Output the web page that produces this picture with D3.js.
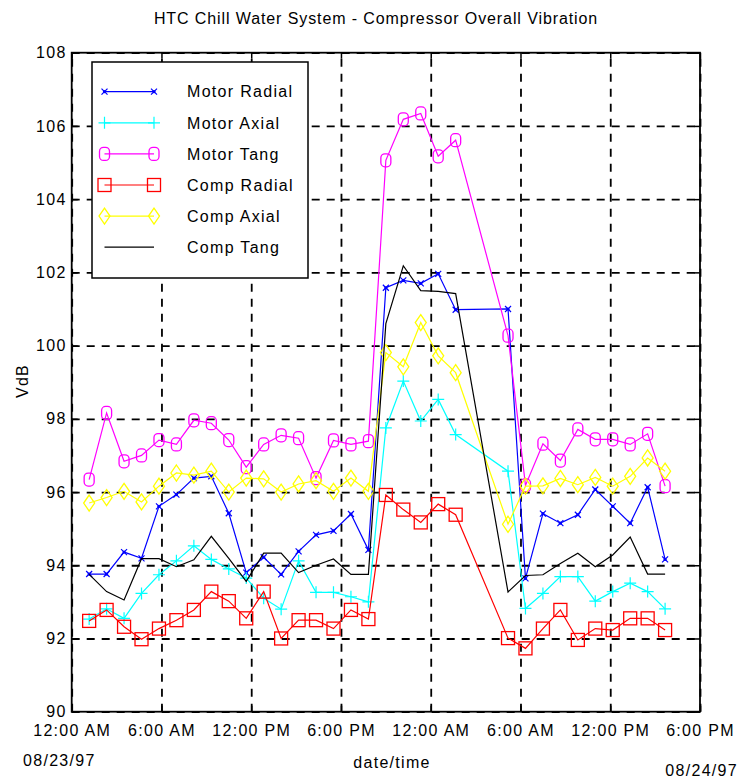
<!DOCTYPE html>
<html lang="en">

<head>
    <meta charset="UTF-8">
    <meta name="viewport" content="width=device-width, initial-scale=1.0">
    <script src="https://d3js.org/d3.v7.min.js"></script>
    <title>HTC Chill Water System - Compressor Overall Vibration</title>
    <style>
        body { margin: 0; background: #fff; }
        text { font-family: "Liberation Sans", Arial, sans-serif; font-size: 16px; letter-spacing: 1.3px; fill: #000; }
    </style>
</head>

<body>
    <div id="chart"></div>

    <script>
        // sample times (one reading about every 70 min, two readings missing around 3 AM)
        var times = [
            "08/23/97 01:10", "08/23/97 02:20", "08/23/97 03:30", "08/23/97 04:40", "08/23/97 05:50",
            "08/23/97 07:00", "08/23/97 08:10", "08/23/97 09:20", "08/23/97 10:30", "08/23/97 11:40",
            "08/23/97 12:50", "08/23/97 14:00", "08/23/97 15:10", "08/23/97 16:20", "08/23/97 17:30",
            "08/23/97 18:40", "08/23/97 19:50", "08/23/97 21:00", "08/23/97 22:10", "08/23/97 23:20",
            "08/24/97 00:30", "08/24/97 01:40",
            "08/24/97 05:10", "08/24/97 06:20", "08/24/97 07:30", "08/24/97 08:40", "08/24/97 09:50",
            "08/24/97 11:00", "08/24/97 12:10", "08/24/97 13:20", "08/24/97 14:30", "08/24/97 15:40"
        ];

        var motorRadial = [93.76, 93.76, 94.36, 94.19, 95.61, 95.93, 96.38, 96.43, 95.42, 93.80, 94.22,
            93.75, 94.38, 94.83, 94.94, 95.40, 94.42, 101.58, 101.78, 101.70, 101.96, 100.98,
            101.00, 93.64, 95.41, 95.15, 95.38, 96.07, 95.61, 95.15, 96.13, 94.16];
        var motorAxial = [92.53, 92.81, 92.55, 93.23, 93.74, 94.12, 94.53, 94.16, 93.90, 93.65, 93.10,
            92.80, 94.12, 93.26, 93.26, 93.14, 93.00, 97.75, 99.03, 97.94, 98.53, 97.57,
            96.57, 92.82, 93.23, 93.69, 93.69, 93.02, 93.28, 93.51, 93.28, 92.81];
        var motorTang = [96.34, 98.16, 96.84, 97.00, 97.42, 97.30, 97.96, 97.88, 97.42, 96.68, 97.30,
            97.55, 97.47, 96.38, 97.41, 97.30, 97.39, 105.06, 106.18, 106.34, 105.17, 105.61,
            100.27, 96.18, 97.32, 96.86, 97.71, 97.44, 97.44, 97.30, 97.59, 96.16];
        var compRadial = [92.48, 92.78, 92.32, 91.98, 92.27, 92.50, 92.78, 93.28, 93.02, 92.55, 93.28,
            92.00, 92.50, 92.50, 92.27, 92.78, 92.53, 95.92, 95.52, 95.17, 95.67, 95.38,
            92.01, 91.73, 92.27, 92.78, 91.96, 92.27, 92.23, 92.55, 92.55, 92.23];
        var compAxial = [95.70, 95.85, 96.02, 95.73, 96.16, 96.52, 96.46, 96.57, 96.00, 96.38, 96.36,
            96.00, 96.22, 96.31, 96.02, 96.38, 96.02, 99.81, 99.42, 100.63, 99.72, 99.26,
            95.12, 96.16, 96.17, 96.37, 96.20, 96.40, 96.16, 96.43, 96.93, 96.57];
        var compTang = [93.75, 93.28, 93.05, 94.18, 94.18, 93.96, 94.15, 94.79, 94.19, 93.56, 94.33,
            94.33, 93.80, 94.00, 94.17, 93.75, 93.75, 100.60, 102.18, 101.50, 101.48, 101.42,
            93.27, 93.72, 93.74, 94.05, 94.33, 93.96, 94.28, 94.77, 93.76, 93.76];

        var seriesNames = ["Motor Radial", "Motor Axial", "Motor Tang", "Comp Radial", "Comp Axial", "Comp Tang"];
        var yTicks = [90, 92, 94, 96, 98, 100, 102, 104, 106, 108];
        var xStart = "08/23/97 00:00", xEnd = "08/24/97 18:00";

        var parseTime = d3.timeParse("%m/%d/%y %H:%M");
        var dates = times.map(parseTime);

        var series = [
            { name: seriesNames[0], values: motorRadial, color: "#0000ff", marker: "x" },
            { name: seriesNames[1], values: motorAxial, color: "#00ffff", marker: "+" },
            { name: seriesNames[2], values: motorTang, color: "#ff00ff", marker: "o" },
            { name: seriesNames[3], values: compRadial, color: "#ff0000", marker: "s" },
            { name: seriesNames[4], values: compAxial, color: "#ffff00", marker: "d" },
            { name: seriesNames[5], values: compTang, color: "#000000", marker: null }
        ];

        // layout
        var W = 738, H = 778;
        var margin = { top: 52.7, right: 38, bottom: 66.3, left: 71.7 };
        var plotW = W - margin.left - margin.right,
            plotH = H - margin.top - margin.bottom;

        var svg = d3.select("#chart").append("svg")
            .attr("width", W)
            .attr("height", H);

        var x = d3.scaleTime().domain([parseTime(xStart), parseTime(xEnd)]).range([margin.left, margin.left + plotW]);
        var y = d3.scaleLinear().domain([90, 108]).range([margin.top + plotH, margin.top]);
        var xTicks = d3.timeHour.every(6).range(parseTime(xStart), d3.timeMinute.offset(parseTime(xEnd), 1));

        // dashed grid
        var grid = svg.append("g").attr("class", "grid");
        grid.append("g")
            .attr("transform", "translate(0," + (margin.top + plotH) + ")")
            .call(d3.axisBottom(x).tickValues(xTicks).tickSize(-plotH).tickFormat(""));
        grid.append("g")
            .attr("transform", "translate(" + margin.left + ",0)")
            .call(d3.axisLeft(y).tickValues(yTicks).tickSize(-plotW).tickFormat(""));
        grid.selectAll(".domain").remove();
        grid.selectAll("line")
            .attr("stroke", "#000")
            .attr("stroke-width", 1.8)
            .attr("stroke-dasharray", "8,7");

        // lines
        var line = d3.line()
            .x(function (d, i) { return x(dates[i]); })
            .y(function (d) { return y(d); });

        function drawMarker(g, type, color) {
            if (type === "x") {
                g.append("path").attr("d", "M-3,-3L3,3M-3,3L3,-3").attr("stroke", color).attr("stroke-width", 1.2);
                g.append("circle").attr("r", 1.6).attr("fill", color);
            } else if (type === "+") {
                g.append("path").attr("d", "M-6,0L6,0M0,-6L0,6").attr("stroke", color).attr("stroke-width", 1.2);
            } else if (type === "o") {
                g.append("rect").attr("x", -5).attr("y", -6.5).attr("width", 10).attr("height", 13).attr("rx", 4)
                    .attr("fill", "none").attr("stroke", color).attr("stroke-width", 1.3);
            } else if (type === "s") {
                g.append("rect").attr("x", -6.5).attr("y", -6.5).attr("width", 13).attr("height", 13)
                    .attr("fill", "none").attr("stroke", color).attr("stroke-width", 1.3);
            } else if (type === "d") {
                g.append("path").attr("d", "M0,-8L5.5,0L0,8L-5.5,0Z")
                    .attr("fill", "none").attr("stroke", color).attr("stroke-width", 1.3);
            }
        }

        series.forEach(function (s) {
            svg.append("path")
                .datum(s.values)
                .attr("fill", "none")
                .attr("stroke", s.color)
                .attr("stroke-width", 1.2)
                .attr("d", line);
            if (s.marker) {
                svg.append("g").selectAll("g")
                    .data(s.values)
                    .enter()
                    .append("g")
                    .attr("transform", function (d, i) { return "translate(" + x(dates[i]) + "," + y(d) + ")"; })
                    .each(function () { drawMarker(d3.select(this), s.marker, s.color); });
            }
        });

        // frame and inward ticks on all four sides
        var ticks = svg.append("g").attr("class", "ticks");
        ticks.append("g").attr("transform", "translate(0," + (margin.top + plotH) + ")")
            .call(d3.axisBottom(x).tickValues(xTicks).tickSize(-6).tickFormat(""));
        ticks.append("g").attr("transform", "translate(0," + margin.top + ")")
            .call(d3.axisTop(x).tickValues(xTicks).tickSize(-6).tickFormat(""));
        ticks.append("g").attr("transform", "translate(" + margin.left + ",0)")
            .call(d3.axisLeft(y).tickValues(yTicks).tickSize(-6).tickFormat(""));
        ticks.append("g").attr("transform", "translate(" + (margin.left + plotW) + ",0)")
            .call(d3.axisRight(y).tickValues(yTicks).tickSize(-6).tickFormat(""));
        ticks.selectAll(".domain").remove();
        ticks.selectAll("line").attr("stroke", "#000").attr("stroke-width", 1.5);

        svg.append("rect")
            .attr("x", margin.left).attr("y", margin.top)
            .attr("width", plotW).attr("height", plotH)
            .attr("fill", "none").attr("stroke", "#000").attr("stroke-width", 1.8);

        // tick labels
        var xAxis = svg.append("g")
            .attr("transform", "translate(0," + (margin.top + plotH) + ")")
            .call(d3.axisBottom(x).tickValues(xTicks).tickSize(0).tickPadding(13).tickFormat(d3.timeFormat("%-I:%M %p")));
        var yAxis = svg.append("g")
            .attr("transform", "translate(" + margin.left + ",0)")
            .call(d3.axisLeft(y).tickValues(yTicks).tickSize(0).tickPadding(5));
        [xAxis, yAxis].forEach(function (a) {
            a.select(".domain").remove();
            a.selectAll("text").attr("font-family", null).attr("font-size", null).style("fill", "#000");
        });

        // titles
        svg.append("text").attr("x", 376).attr("y", 24).attr("text-anchor", "middle")
            .style("letter-spacing", "0.9px")
            .text("HTC Chill Water System - Compressor Overall Vibration");
        svg.append("text").attr("transform", "translate(28,381) rotate(-90)").attr("text-anchor", "middle").text("VdB");
        svg.append("text").attr("x", 392).attr("y", 768).attr("text-anchor", "middle").text("date/time");
        svg.append("text").attr("x", 23).attr("y", 766).text("08/23/97");
        svg.append("text").attr("x", 738).attr("y", 776).attr("text-anchor", "end").text("08/24/97");

        // legend
        var legend = svg.append("g");
        legend.append("rect")
            .attr("x", 92).attr("y", 62).attr("width", 216).attr("height", 216)
            .attr("fill", "#fff").attr("stroke", "#000").attr("stroke-width", 1.5);
        series.forEach(function (s, i) {
            var ly = 91.7 + i * 31.1;
            legend.append("line")
                .attr("x1", 104.5).attr("x2", 154).attr("y1", ly).attr("y2", ly)
                .attr("stroke", s.color).attr("stroke-width", 1.2);
            if (s.marker) {
                [104.5, 154].forEach(function (mx) {
                    drawMarker(legend.append("g").attr("transform", "translate(" + mx + "," + ly + ")"), s.marker, s.color);
                });
            }
            legend.append("text").attr("x", 187).attr("y", ly + 5.7).text(s.name);
        });
    </script>
</body>

</html>
